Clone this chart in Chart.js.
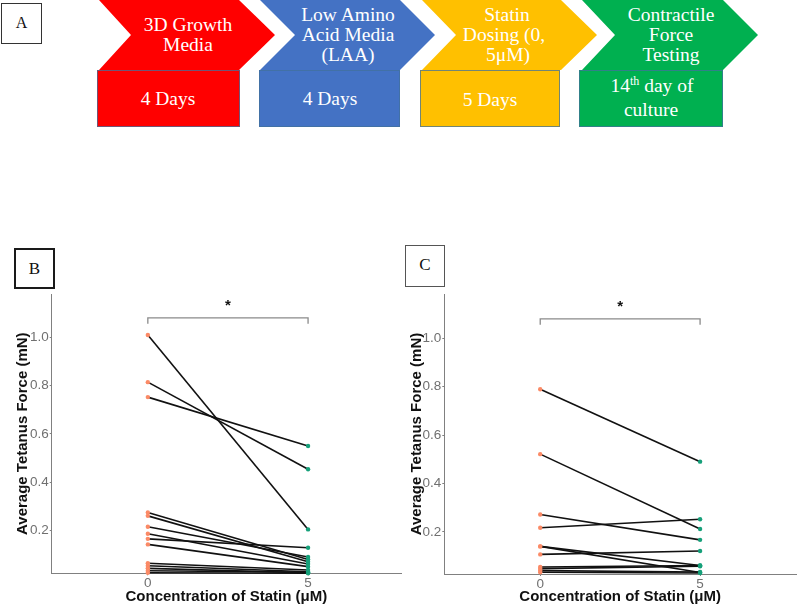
<!DOCTYPE html>
<html>
<head>
<meta charset="utf-8">
<script src="https://cdn.jsdelivr.net/npm/chart.js@4.4.1/dist/chart.umd.min.js"></script>
<style>
  body { margin: 0; width: 800px; height: 605px; background: #fff; position: relative; overflow: hidden; }
  .chev, .rect, .t, .lbl, canvas { position: absolute; }
  .chev { top: 0; height: 70px; }
  .rect { top: 70px; height: 57px; box-sizing: border-box; border: 1px solid rgba(65, 113, 156, 0.75); }
  .t { width: 200px; text-align: center; color: #fff; font-family: "Liberation Serif", serif; font-size: 19.5px; line-height: 20px; white-space: nowrap; }
  .t sup { font-size: 12px; line-height: 0; vertical-align: 7px; }
  .lbl { box-sizing: border-box; background: #fff; font-family: "Liberation Serif", serif; text-align: center; color: #111; z-index: 2; }
</style>
</head>
<body>
<!-- panel A: workflow -->
<div class="lbl" style="left:1px;top:3px;width:41px;height:41px;border:1.5px solid #333;font-size:16px;line-height:38px;">A</div>

<div class="chev" style="left:99px;width:176px;background:#FF0000;clip-path:polygon(0 0,140px 0,176px 35px,140px 70px,0 70px,32px 35px)"></div>
<div class="chev" style="left:260px;width:175px;background:#4472C4;clip-path:polygon(0 0,140px 0,175px 35px,140px 70px,0 70px,35px 35px)"></div>
<div class="chev" style="left:422px;width:175px;background:#FFC000;clip-path:polygon(0 0,139px 0,175px 35px,139px 70px,0 70px,34px 35px)"></div>
<div class="chev" style="left:582px;width:176px;background:#00B050;clip-path:polygon(0 0,141px 0,176px 35px,141px 70px,0 70px,33px 35px)"></div>

<div class="rect" style="left:97px;width:143px;background:#FF0000"></div>
<div class="rect" style="left:259px;width:141px;background:#4472C4"></div>
<div class="rect" style="left:420px;width:140px;background:#FFC000"></div>
<div class="rect" style="left:579px;width:144px;background:#00B050"></div>

<div class="t" style="left:88px;top:15px">3D Growth</div>
<div class="t" style="left:88px;top:35px">Media</div>
<div class="t" style="left:248px;top:5px">Low Amino</div>
<div class="t" style="left:248px;top:25px">Acid Media</div>
<div class="t" style="left:248px;top:45px">(LAA)</div>
<div class="t" style="left:407px;top:5px">Statin</div>
<div class="t" style="left:404px;top:25px">Dosing (0,</div>
<div class="t" style="left:408px;top:45px">5μM)</div>
<div class="t" style="left:571px;top:5px">Contractile</div>
<div class="t" style="left:571px;top:25px">Force</div>
<div class="t" style="left:571px;top:45px">Testing</div>

<div class="t" style="left:68px;top:89px">4 Days</div>
<div class="t" style="left:230px;top:89px">4 Days</div>
<div class="t" style="left:390px;top:90px">5 Days</div>
<div class="t" style="left:552px;top:76px">14<sup>th</sup> day of</div>
<div class="t" style="left:551px;top:100px">culture</div>

<!-- panels B and C -->
<canvas id="chartB" width="405" height="320" style="left:0;top:285px"></canvas>
<canvas id="chartC" width="400" height="320" style="left:400px;top:285px"></canvas>
<div class="lbl" style="left:14px;top:248px;width:41px;height:41px;border:2px solid #1a1a1a;font-size:17px;line-height:37px;">B</div>
<div class="lbl" style="left:405px;top:245px;width:40px;height:42px;border:1.5px solid #555;font-size:17px;line-height:38px;">C</div>

<script>
// paired measurements: same tissue at 0 and 5 µM statin
const doses = [0, 5];
const yTicks = [0.2, 0.4, 0.6, 0.8, 1.0];

const tetanusB0 = [1.009, 0.814, 0.752, 0.275, 0.261, 0.216, 0.187, 0.166, 0.143, 0.065, 0.055, 0.044, 0.034, 0.026];
const tetanusB5 = [0.205, 0.454, 0.550, 0.081, 0.071, 0.091, 0.062, 0.129, 0.051, 0.037, 0.030, 0.026, 0.028, 0.024];

const tetanusC0 = [0.789, 0.521, 0.272, 0.217, 0.140, 0.140, 0.107, 0.055, 0.048, 0.040, 0.033];
const tetanusC5 = [0.490, 0.212, 0.167, 0.252, 0.061, 0.032, 0.121, 0.061, 0.058, 0.034, 0.030];

// significance bracket and star
const bracketX = [0, 0, 5, 5];
const bracketY = [1.055, 1.08, 1.08, 1.055];
const starX = 2.5;
const starY = 1.13;

const lowColor = '#FB8A66';
const highColor = '#16A07A';
const axisGrey = '#808080';
const sans = '"Liberation Sans", Arial, sans-serif';

const starPlugin = {
    id: 'star',
    afterDatasetsDraw(chart) {
        const ctx = chart.ctx;
        const x = chart.scales.x.getPixelForValue(starX);
        const y = chart.scales.y.getPixelForValue(starY);
        ctx.save();
        ctx.font = 'bold 15px ' + sans;
        ctx.fillStyle = '#111';
        ctx.textAlign = 'center';
        ctx.textBaseline = 'middle';
        ctx.fillText('*', x, y);
        ctx.restore();
    }
};

function makePanel(id, low, high, opts) {
    const datasets = low.map((v, i) => ({
        data: [{ x: doses[0], y: v }, { x: doses[1], y: high[i] }],
        borderColor: '#111',
        borderWidth: 1.6,
        pointRadius: 2.2,
        pointBorderWidth: 0,
        pointBackgroundColor: [lowColor, highColor],
        clip: false
    }));
    datasets.push({
        data: bracketX.map((x, k) => ({ x: x, y: bracketY[k] })),
        borderColor: '#8a8a8a',
        borderWidth: 1.3,
        pointRadius: 0,
        clip: false
    });

    new Chart(document.getElementById(id), {
        type: 'line',
        data: { datasets: datasets },
        plugins: [starPlugin],
        options: {
            responsive: false,
            animation: false,
            devicePixelRatio: 1,
            layout: { padding: { left: opts.padLeft, top: opts.padTop, right: 2, bottom: 0 } },
            plugins: { legend: { display: false }, tooltip: { enabled: false } },
            scales: {
                x: {
                    type: 'linear',
                    min: -3,
                    max: opts.xMax,
                    afterBuildTicks: s => { s.ticks = doses.map(v => ({ value: v })); },
                    afterFit: s => { s.height = opts.xHeight; },
                    grid: { drawOnChartArea: false, drawTicks: true, tickLength: 2, color: axisGrey },
                    border: { color: axisGrey, width: 1 },
                    ticks: { color: '#707070', padding: 0, font: { family: sans, size: 13.5 } },
                    title: {
                        display: true,
                        text: 'Concentration of Statin (μM)',
                        color: '#111',
                        padding: 0,
                        font: { family: sans, size: 15, weight: 'bold', lineHeight: 1.1 }
                    }
                },
                y: {
                    min: opts.yMin,
                    max: opts.yMax,
                    afterBuildTicks: s => { s.ticks = yTicks.map(v => ({ value: v })); },
                    afterFit: s => { s.width = opts.yWidth; },
                    grid: { drawOnChartArea: false, drawTicks: true, tickLength: 2, color: axisGrey },
                    border: { color: axisGrey, width: 1 },
                    ticks: {
                        color: '#707070',
                        padding: 1,
                        font: { family: sans, size: 13.5 },
                        callback: v => v.toFixed(1)
                    },
                    title: {
                        display: true,
                        text: 'Average Tetanus Force (mN)',
                        color: '#111',
                        padding: 0,
                        font: { family: sans, size: 15, weight: 'bold', lineHeight: 1.1 }
                    }
                }
            }
        }
    });
}

makePanel('chartB', tetanusB0, tetanusB5, {
    xMax: 7.9, yMin: 0.0235, yMax: 1.178,
    padLeft: 15, padTop: 8.3, yWidth: 36.7, xHeight: 31.7
});
makePanel('chartC', tetanusC0, tetanusC5, {
    xMax: 8.0, yMin: 0.026, yMax: 1.182,
    padLeft: 8.4, padTop: 8, yWidth: 35.9, xHeight: 31
});
</script>
</body>
</html>
